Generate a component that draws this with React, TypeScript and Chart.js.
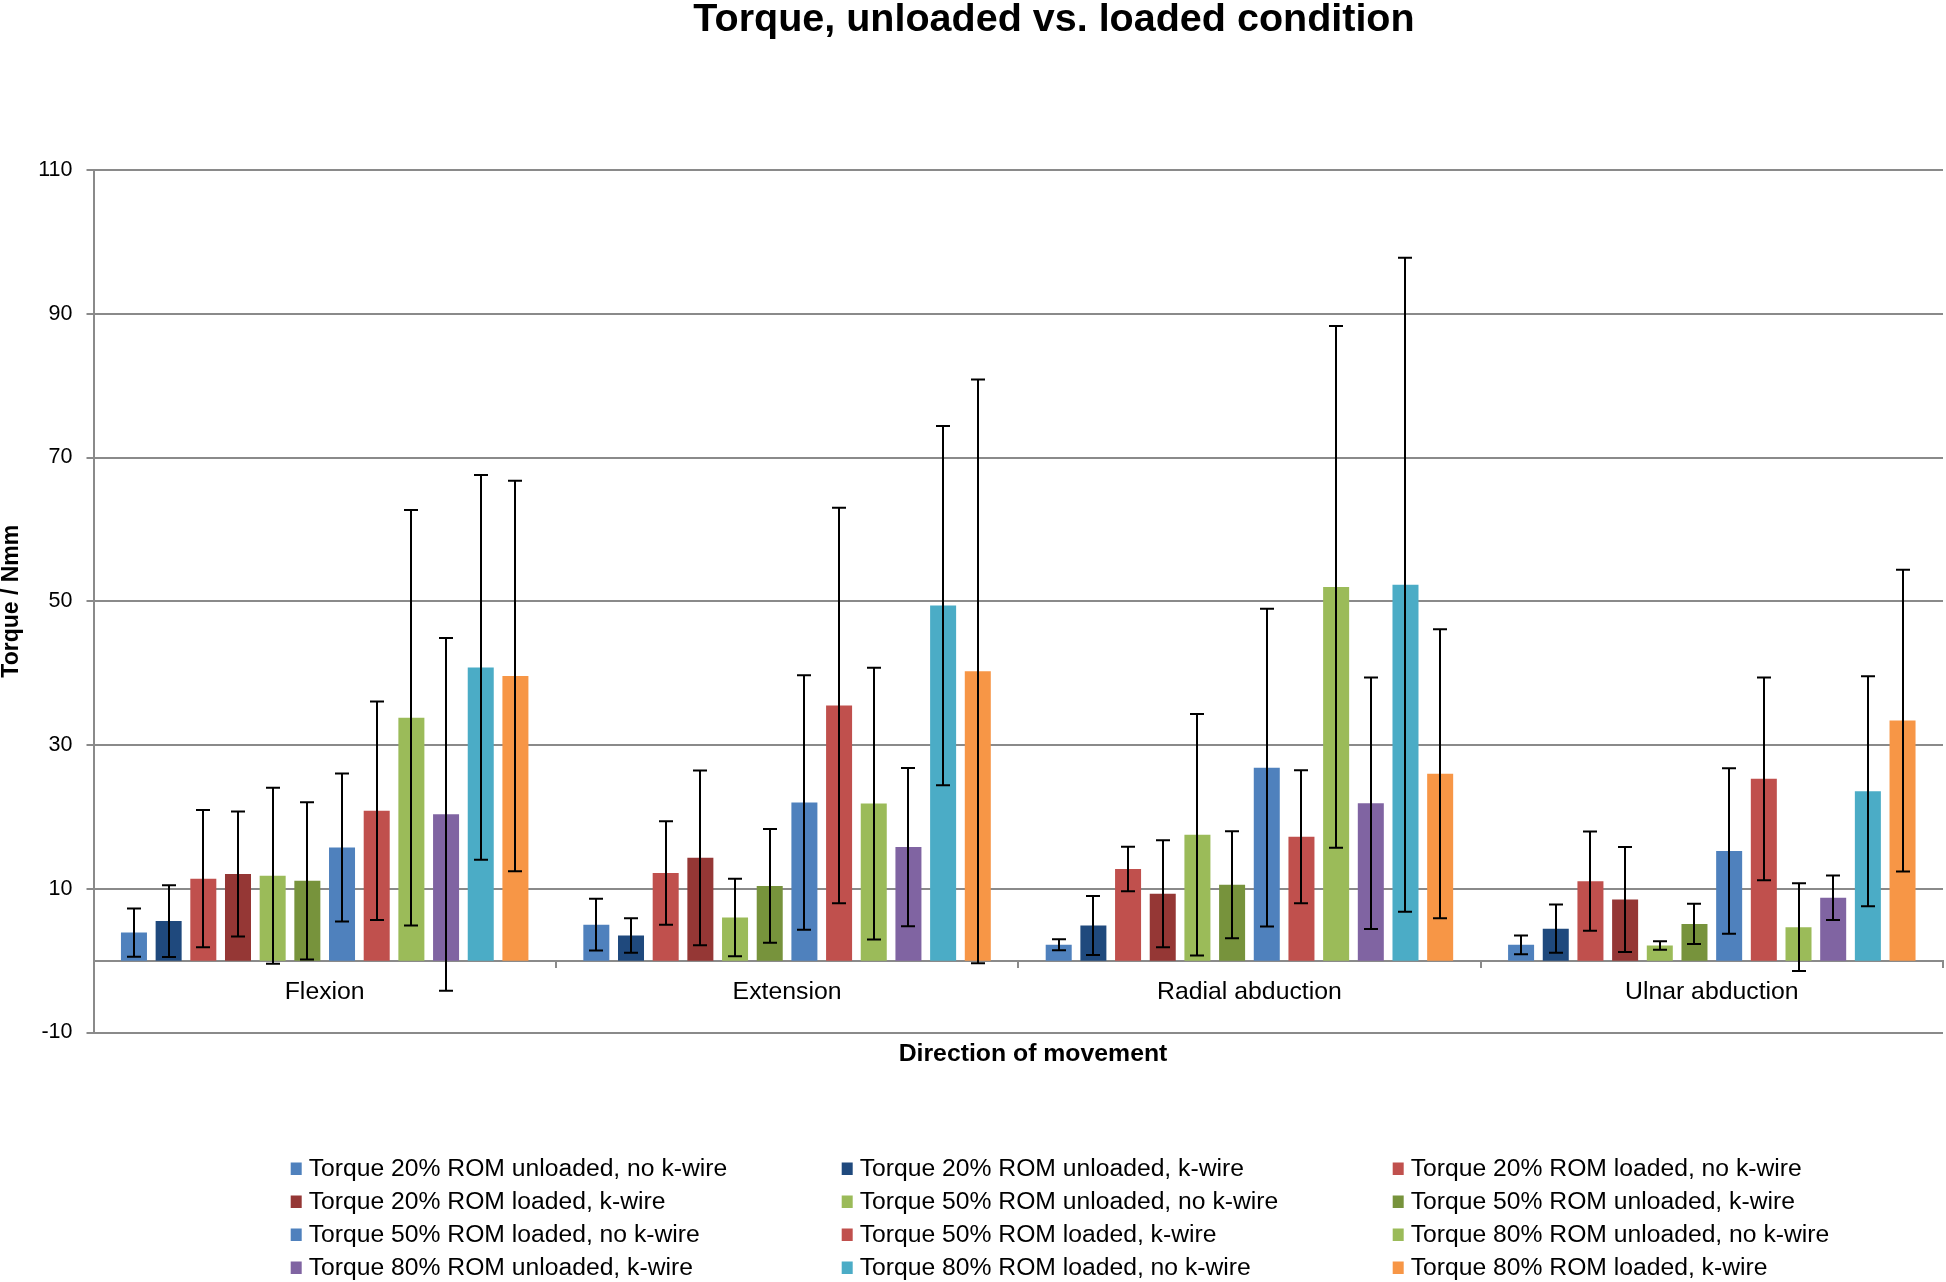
import React, { useEffect, useRef } from 'react';
import { Chart, registerables } from 'chart.js';

Chart.register(...registerables);

// ---------- DATA ----------
const chartTitle = 'Torque, unloaded vs. loaded condition';
const xAxisTitle = 'Direction of movement';
const yAxisTitle = 'Torque / Nmm';

const categories = ['Flexion', 'Extension', 'Radial abduction', 'Ulnar abduction'];

const yAxisMin = -10;
const yAxisMax = 110;
const yAxisStep = 20;

const seriesLabels = [
  'Torque 20% ROM unloaded, no k-wire',
  'Torque 20% ROM unloaded, k-wire',
  'Torque 20% ROM loaded, no k-wire',
  'Torque 20% ROM loaded, k-wire',
  'Torque 50% ROM unloaded, no k-wire',
  'Torque 50% ROM unloaded, k-wire',
  'Torque 50% ROM loaded, no k-wire',
  'Torque 50% ROM loaded, k-wire',
  'Torque 80% ROM unloaded, no k-wire',
  'Torque 80% ROM unloaded, k-wire',
  'Torque 80% ROM loaded, no k-wire',
  'Torque 80% ROM loaded, k-wire',
];

const seriesColors = [
  '#4F81BD', '#1F497D', '#C0504D', '#953735',
  '#9BBB59', '#77933C', '#4F81BD', '#C0504D',
  '#9BBB59', '#8064A2', '#4BACC6', '#F79646',
];

// mean torque per category (Flexion, Extension, Radial abd., Ulnar abd.)
const rom20UnloadedNoKwire = [3.9, 5.0, 2.2, 2.2];
const rom20UnloadedKwire = [5.5, 3.5, 4.9, 4.45];
const rom20LoadedNoKwire = [11.4, 12.2, 12.75, 11.05];
const rom20LoadedKwire = [12.05, 14.3, 9.3, 8.5];
const rom50UnloadedNoKwire = [11.8, 6.0, 17.5, 2.1];
const rom50UnloadedKwire = [11.1, 10.4, 10.55, 5.1];
const rom50LoadedNoKwire = [15.75, 22.0, 26.85, 15.25];
const rom50LoadedKwire = [20.85, 35.5, 17.25, 25.3];
const rom80UnloadedNoKwire = [33.8, 21.85, 52.0, 4.65];
const rom80UnloadedKwire = [20.35, 15.8, 21.9, 8.75];
const rom80LoadedNoKwire = [40.8, 49.4, 52.3, 23.55];
const rom80LoadedKwire = [39.6, 40.25, 26.0, 33.4];

// standard deviations (error bars)
const sd20UnloadedNoKwire = [3.35, 3.6, 0.77, 1.3];
const sd20UnloadedKwire = [5.0, 2.4, 4.1, 3.35];
const sd20LoadedNoKwire = [9.55, 7.2, 3.1, 6.9];
const sd20LoadedKwire = [8.7, 12.15, 7.45, 7.3];
const sd50UnloadedNoKwire = [12.25, 5.4, 16.8, 0.6];
const sd50UnloadedKwire = [10.95, 7.9, 7.45, 2.8];
const sd50LoadedNoKwire = [10.3, 17.7, 22.1, 11.5];
const sd50LoadedKwire = [15.2, 27.5, 9.25, 14.1];
const sd80UnloadedNoKwire = [28.9, 18.9, 36.3, 6.1];
const sd80UnloadedKwire = [24.55, 11.0, 17.5, 3.1];
const sd80LoadedNoKwire = [26.75, 25.0, 45.5, 16.0];
const sd80LoadedKwire = [27.15, 40.6, 20.1, 21.0];

const seriesMeans = [
  rom20UnloadedNoKwire, rom20UnloadedKwire, rom20LoadedNoKwire, rom20LoadedKwire,
  rom50UnloadedNoKwire, rom50UnloadedKwire, rom50LoadedNoKwire, rom50LoadedKwire,
  rom80UnloadedNoKwire, rom80UnloadedKwire, rom80LoadedNoKwire, rom80LoadedKwire,
];
const seriesSds = [
  sd20UnloadedNoKwire, sd20UnloadedKwire, sd20LoadedNoKwire, sd20LoadedKwire,
  sd50UnloadedNoKwire, sd50UnloadedKwire, sd50LoadedNoKwire, sd50LoadedKwire,
  sd80UnloadedNoKwire, sd80UnloadedKwire, sd80LoadedNoKwire, sd80LoadedKwire,
];

// ---------- STYLE ----------
const FONT = '"Liberation Sans", Arial, Helvetica, sans-serif';
const GRID = '#8a8a8a';

const errorBarPlugin = {
  id: 'errorBars',
  afterDatasetsDraw(chart: any) {
    const ctx = chart.ctx;
    const yScale = chart.scales.y;
    ctx.save();
    ctx.strokeStyle = '#000';
    ctx.lineWidth = 2;
    chart.data.datasets.forEach((ds: any, i: number) => {
      const meta = chart.getDatasetMeta(i);
      meta.data.forEach((bar: any, j: number) => {
        const m = ds.data[j];
        const e = ds.errors[j];
        const yt = yScale.getPixelForValue(m + e);
        const yb = yScale.getPixelForValue(m - e);
        const x = Math.round(bar.x);
        const half = 7;
        ctx.beginPath();
        ctx.moveTo(x, yt);
        ctx.lineTo(x, yb);
        ctx.moveTo(x - half, yt);
        ctx.lineTo(x + half, yt);
        ctx.moveTo(x - half, yb);
        ctx.lineTo(x + half, yb);
        ctx.stroke();
      });
    });
    ctx.restore();
  },
};

const textPlugin = {
  id: 'textDecor',
  afterDraw(chart: any) {
    const ctx = chart.ctx;
    ctx.save();
    ctx.fillStyle = '#000';
    // chart title
    ctx.font = `bold 39.5px ${FONT}`;
    ctx.textAlign = 'center';
    ctx.textBaseline = 'alphabetic';
    ctx.fillText(chartTitle, 1054, 31);
    // x axis title
    ctx.font = `bold 24.8px ${FONT}`;
    ctx.fillText(xAxisTitle, 1033, 1061);
    // legend (3 columns, row-major)
    const colX = [290.7, 841.7, 1392.7];
    const rowBase = [1176, 1209, 1242, 1275];
    ctx.font = `24.7px ${FONT}`;
    ctx.textAlign = 'left';
    chart.data.datasets.forEach((ds: any, i: number) => {
      const c = i % 3;
      const r = Math.floor(i / 3);
      const x = colX[c];
      const b = rowBase[r];
      ctx.fillStyle = ds.backgroundColor;
      ctx.fillRect(x, b - 13.5, 11, 12.5);
      ctx.fillStyle = '#000';
      ctx.fillText(ds.label, x + 18, b);
    });
    ctx.restore();
  },
};

export default function App() {
  const ref = useRef<HTMLCanvasElement>(null);

  useEffect(() => {
    const canvas = ref.current;
    if (!canvas) return;
    const datasets = seriesMeans.map((d, i) => ({
      label: seriesLabels[i],
      data: d,
      errors: seriesSds[i],
      backgroundColor: seriesColors[i],
      borderWidth: 0,
      categoryPercentage: 0.9,
      barPercentage: 0.75,
    }));
    const chart = new Chart(canvas, {
      type: 'bar',
      data: { labels: categories, datasets: datasets as any },
      options: {
        responsive: false,
        animation: false,
        layout: { padding: { top: 170, bottom: 249.5, left: 0, right: 3 } },
        plugins: {
          legend: { display: false },
          title: { display: false },
          tooltip: { enabled: false },
        },
        scales: {
          x: {
            position: { y: 0 } as any,
            offset: true,
            grid: {
              display: true,
              drawOnChartArea: false,
              drawTicks: true,
              tickLength: 6,
              color: GRID,
              lineWidth: 2,
              offset: true,
            },
            border: { display: true, color: GRID, width: 2 },
            ticks: {
              color: '#000',
              font: { family: FONT, size: 24.8 },
              padding: 11,
              maxRotation: 0,
              autoSkip: false,
            },
          },
          y: {
            min: yAxisMin,
            max: yAxisMax,
            afterFit: (s: any) => {
              s.width = 93.5;
            },
            ticks: {
              stepSize: yAxisStep,
              color: '#000',
              font: { family: FONT, size: 21.5 },
              padding: 14,
            },
            grid: { color: GRID, lineWidth: 2, tickLength: 7, drawTicks: true },
            border: { display: true, color: GRID, width: 2 },
            title: {
              display: true,
              text: yAxisTitle,
              color: '#000',
              font: { family: FONT, size: 23, weight: 'bold', lineHeight: 1 },
              padding: 0,
            },
          },
        },
      },
      plugins: [errorBarPlugin, textPlugin],
    });
    return () => chart.destroy();
  }, []);

  return (
    <div
      style={{
        position: 'absolute',
        left: 0,
        top: 0,
        width: 1946,
        height: 1282,
        background: '#fff',
      }}
    >
      <canvas ref={ref} width={1946} height={1282} style={{ display: 'block' }} />
    </div>
  );
}
